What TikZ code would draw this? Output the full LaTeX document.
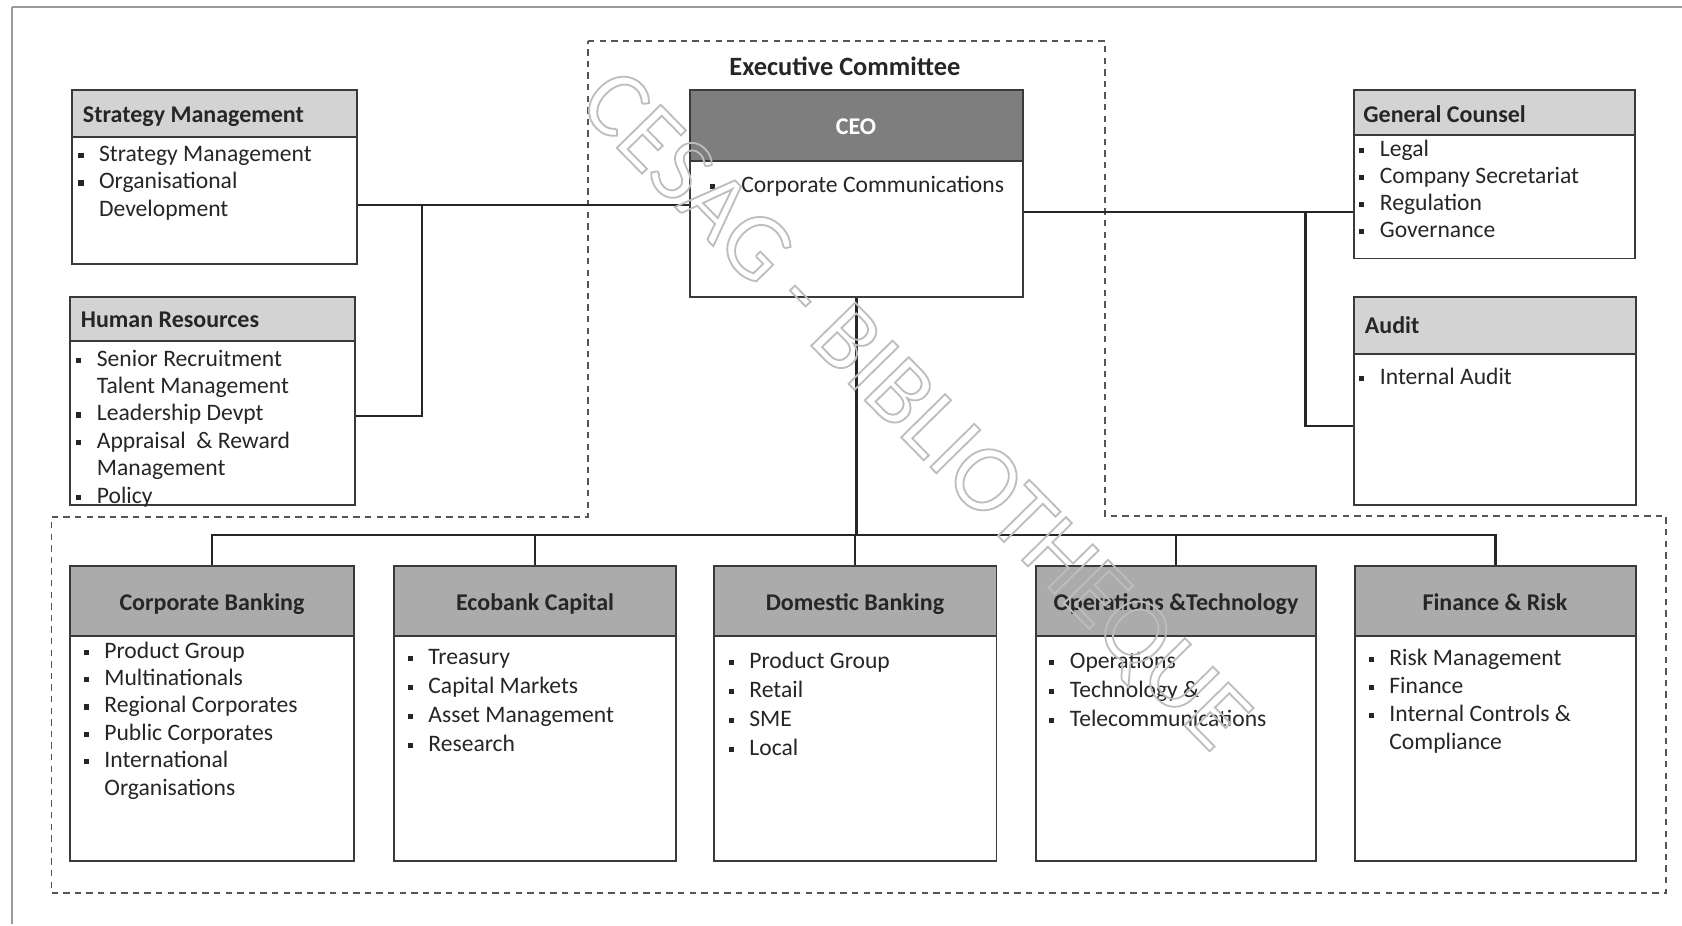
\documentclass[tikz,border=0pt]{standalone}
\usepackage{fontspec}
\setmainfont{Carlito}
\usetikzlibrary{fit}

\definecolor{sidehdr}{HTML}{D3D3D3}
\definecolor{bothdr}{HTML}{ABABAB}
\definecolor{ceohdr}{HTML}{7E7E7E}
\definecolor{framegray}{HTML}{9A9A9A}
\definecolor{dashgray}{HTML}{555555}
\definecolor{boxgray}{HTML}{3A3A3A}
\definecolor{wmgray}{HTML}{BDBDBD}
\definecolor{inkgray}{HTML}{262626}

% bulleted and continuation lines of a box's item list
\newlength\bgap \setlength\bgap{7.8pt}
\newcommand\bulletmark{\raisebox{1.6pt}{\rule{2.6pt}{2.6pt}}}
\newcommand\orgitem[1]{\hbox{\llap{\bulletmark\hskip\bgap}#1}}
\newcommand\orgcont[1]{\hbox{#1}}
\newcommand\orglist[2]{\vtop{\baselineskip=#1\relax\lineskiplimit=-10pt #2}}

% one unit box: name, x1, y1, x2, y2, header bottom, header fill
\newcommand\orgbox[7]{%
  \fill[#7] (#2,#3) rectangle (#4,#6);
  \node[boxframe, fit={(#2,#3)(#4,#5)}] (#1) {};
  \draw[boxline] (#2,#6) -- (#4,#6);
}

\tikzset{
  boxframe/.style={draw=boxgray, line width=0.65pt, inner sep=0pt},
  boxline/.style={draw=boxgray, line width=0.65pt},
  conn/.style={draw=inkgray, line width=1.05pt},
  groupline/.style={draw=dashgray, line width=0.6pt, dash pattern=on 3.2pt off 2.6pt},
  sidetitle/.style={anchor=base west, inner sep=0pt, text=inkgray,
    font=\fontsize{12}{14}\selectfont\bfseries},
  unittitle/.style={anchor=base, inner sep=0pt, text=inkgray,
    font=\fontsize{12}{14}\selectfont\bfseries},
  items/.style={anchor=base west, inner sep=0pt, text=inkgray,
    font=\fontsize{11.8}{13.7}\selectfont},
}

\begin{document}
\begin{tikzpicture}[x=0.5pt,y=-0.5pt]
\useasboundingbox (0,0) rectangle (1682,926);
\fill[white] (0,0) rectangle (1682,926);

% page frame
\draw[framegray, line width=0.8pt] (12,7) -- (1700,7);
\draw[framegray, line width=0.8pt] (12,7) -- (12,924);

% executive committee and business units outline
\draw[groupline] (588,41) -- (1105,41) -- (1105,516) -- (1666,516)
  -- (1666,893) -- (51.5,893) -- (51.5,517) -- (588,517) -- cycle;
\node[anchor=base, inner sep=0pt, text=inkgray,
  font=\fontsize{13.2}{15}\selectfont\bfseries] (exec) at (845,75) {Executive Committee};

% support functions
\orgbox{sm}{72}{90}{357}{264}{137}{sidehdr}
\orgbox{hr}{70}{297}{355}{505}{341}{sidehdr}
\orgbox{gc}{1354}{90}{1635}{258.5}{135}{sidehdr}
\orgbox{au}{1354}{297}{1636}{505}{354}{sidehdr}
% chief executive
\orgbox{ceo}{690}{90}{1023}{297}{161}{ceohdr}
% business units
\orgbox{cb}{70}{566}{354}{861}{636}{bothdr}
\orgbox{ec}{394}{566}{676}{861}{636}{bothdr}
\orgbox{db}{714}{566}{996.5}{861}{636}{bothdr}
\orgbox{ot}{1036}{566}{1316}{861}{636}{bothdr}
\orgbox{fr}{1355}{566}{1636}{861}{636}{bothdr}

% titles
\node[sidetitle] (sm-t) at (82.6,122.8) {Strategy Management};
\node[sidetitle] (hr-t) at (80.5,327.7) {Human Resources};
\node[sidetitle] (gc-t) at (1363,122.8) {General Counsel};
\node[sidetitle] (au-t) at (1364.5,333) {Audit};
\node[unittitle, text=white] (ceo-t) at (856,134.6) {CEO};
\node[unittitle] (cb-t) at (212,610) {Corporate Banking};
\node[unittitle] (ec-t) at (535,610) {Ecobank Capital};
\node[unittitle] (db-t) at (855,610) {Domestic Banking};
\node[unittitle] (ot-t) at (1176,610) {Operations \&Technology};
\node[unittitle] (fr-t) at (1495,610) {Finance \& Risk};

% item lists
\node[items] (sm-l) at (98.7,161.5) {\orglist{13.7pt}{%
  \orgitem{Strategy Management}\orgitem{Organisational}\orgcont{Development}}};
\node[items] (hr-l) at (96.5,366) {\orglist{13.7pt}{%
  \orgitem{Senior Recruitment}\orgcont{Talent Management}\orgitem{Leadership Devpt}%
  \orgitem{Appraisal\ \ \& Reward}\orgcont{Management}\orgitem{Policy}}};
\node[items] (ceo-l) at (741,192.6) {\setlength\bgap{13pt}\orglist{13.7pt}{%
  \orgitem{Corporate Communications}}};
\node[items] (gc-l) at (1379.5,156) {\orglist{13.6pt}{%
  \orgitem{Legal}\orgitem{Company Secretariat}\orgitem{Regulation}\orgitem{Governance}}};
\node[items] (au-l) at (1379.5,384.6) {\orglist{13.6pt}{%
  \orgitem{Internal Audit}}};
\node[items] (cb-l) at (104,658) {\orglist{13.7pt}{%
  \orgitem{Product Group}\orgitem{Multinationals}\orgitem{Regional Corporates}%
  \orgitem{Public Corporates}\orgitem{International}\orgcont{Organisations}}};
\node[items] (ec-l) at (428,664.6) {\orglist{14.5pt}{%
  \orgitem{Treasury}\orgitem{Capital Markets}\orgitem{Asset Management}\orgitem{Research}}};
\node[items] (db-l) at (749,668) {\orglist{14.5pt}{%
  \orgitem{Product Group}\orgitem{Retail}\orgitem{SME}\orgitem{Local}}};
\node[items] (ot-l) at (1069.5,668) {\orglist{14.5pt}{%
  \orgitem{Operations}\orgitem{Technology \&}\orgitem{Telecommunications}}};
\node[items] (fr-l) at (1389,665.6) {\orglist{13.95pt}{%
  \orgitem{Risk Management}\orgitem{Finance}\orgitem{Internal Controls \&}%
  \orgcont{Compliance}}};

% reporting lines
\coordinate (jl) at (421.6,205);
\coordinate (jl2) at (421.6,416);
\draw[conn] (sm.east |- jl) -- (ceo.west |- jl);
\draw[conn] (jl) -- (jl2) -- (hr.east |- jl2);
\coordinate (jr) at (1305.5,212.4);
\coordinate (jr2) at (1305.5,426);
\draw[conn] (ceo.east |- jr) -- (gc.west |- jr);
\draw[conn] (jr) -- (jr2) -- (au.west |- jr2);
\coordinate (bus) at (856,535);
\draw[conn] (ceo.south) -- (ceo.south |- bus);
\draw[conn] (cb.north) -- (cb.north |- bus) -- (fr.north |- bus) -- (fr.north);
\draw[conn] (ec.north) -- (ec.north |- bus);
\draw[conn] (db.north) -- (db.north |- bus);
\draw[conn] (ot.north) -- (ot.north |- bus);

% library stamp, outlined letters
\node[rotate=-45.5, inner sep=0pt, text=wmgray,
  font=\fontsize{48}{50}\selectfont] (stamp) at (912,413)
  {\special{pdf:code 1 Tr 0.9 w}CESAG - BIBLIOTHEQUE\special{pdf:code 0 Tr}};
\end{tikzpicture}
\end{document}
